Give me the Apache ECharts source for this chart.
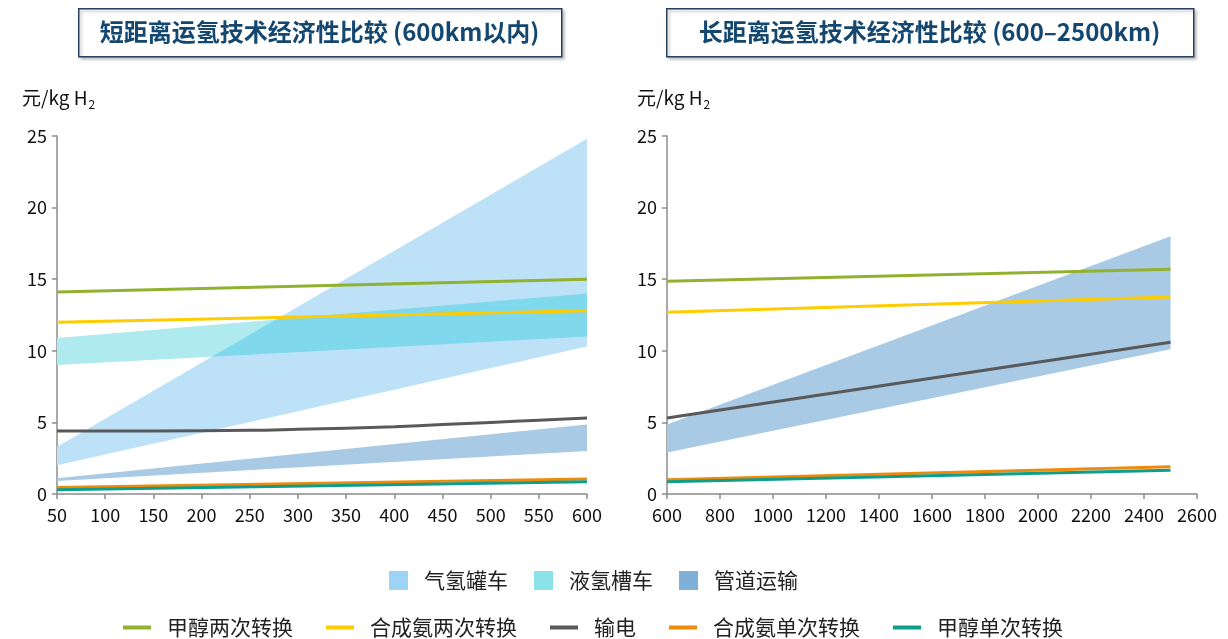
<!DOCTYPE html>
<html><head><meta charset="utf-8">
<script src="https://cdn.jsdelivr.net/npm/echarts@6/dist/echarts.min.js"></script>
<style>html,body{margin:0;padding:0;background:#fff}#c{width:1228px;height:639px}</style>
</head><body><div id="c"></div>
<script>
// ---- data ----
const shortX = [50, 600];
const gasTankLow = [2.0, 10.3];
const gasTankHigh = [3.3, 24.8];
const liqTankLow = [9.0, 11.0];
const liqTankHigh = [10.9, 14.0];
const pipeShortLow = [0.9, 3.0];
const pipeShortHigh = [1.1, 4.85];

const shortLineX = [50, 600];
const methanolTwoShort = [14.1, 15.0];
const ammoniaTwoShort = [12.0, 12.8];
const ammoniaOneShort = [0.45, 1.05];
const methanolOneShort = [0.3, 0.85];
const powerShortX = [50, 150, 250, 300, 350, 400, 450, 500, 550, 600];
const powerShort = [4.4, 4.4, 4.45, 4.52, 4.6, 4.7, 4.85, 5.0, 5.15, 5.3];

const longX = [600, 2500];
const pipeLongLow = [2.9, 10.1];
const pipeLongHigh = [4.85, 18.0];
const methanolTwoLong = [14.85, 15.7];
const ammoniaTwoLong = [12.7, 13.75];
const powerLong = [5.3, 10.6];
const ammoniaOneLong = [1.0, 1.9];
const methanolOneLong = [0.85, 1.65];

const bandNames = ['气氢罐车', '液氢槽车', '管道运输'];
const lineNames = ['甲醇两次转换', '合成氨两次转换', '输电', '合成氨单次转换', '甲醇单次转换'];
const titles = ['短距离运氢技术经济性比较 (600km以内)', '长距离运氢技术经济性比较 (600–2500km)'];

// ---- styles ----
const FONT = '"Noto Sans CJK SC", "Noto Sans", sans-serif';
const bandLegendColor = {'气氢罐车': '#9dd3f5', '液氢槽车': '#8ae3e8', '管道运输': '#7fb0d8'};
const bandFill = {'气氢罐车': '#bde2f8', '液氢槽车': '#aeeaee', '管道运输': '#a8cae4'};
const overlapFill = '#80d8ec';
const lineColor = {'甲醇两次转换': '#92b22f', '合成氨两次转换': '#ffcc00', '输电': '#595959', '合成氨单次转换': '#ef8a0a', '甲醇单次转换': '#0e9e8b'};

function zip3(x, a, b) { return x.map((v, i) => [v, a[i], b[i]]); }
function zip2(x, a) { return x.map((v, i) => [v, a[i]]); }

function quad(api, a, b, lo, hi) {
  return [api.coord([a[0], a[lo]]), api.coord([b[0], b[lo]]),
          api.coord([b[0], b[hi]]), api.coord([a[0], a[hi]])];
}

function bandSeries(name, gi, rows) {
  return {
    type: 'custom', name: name, xAxisIndex: gi, yAxisIndex: gi,
    itemStyle: {color: bandLegendColor[name]},
    encode: {x: 0, y: [1, 2]},
    data: rows, z: 1, silent: true,
    renderItem: function (params, api) {
      const i = params.dataIndex;
      if (i >= rows.length - 1) return null;
      return {type: 'polygon', shape: {points: quad(api, rows[i], rows[i + 1], 1, 2)},
        style: {fill: bandFill[name]}};
    }
  };
}

// convex polygon clipping (Sutherland–Hodgman) in pixel space
function clipPoly(subject, clip) {
  let out = subject;
  const n = clip.length;
  // orientation of clip polygon
  let area = 0;
  for (let i = 0; i < n; i++) { const p = clip[i], q = clip[(i + 1) % n]; area += p[0] * q[1] - q[0] * p[1]; }
  const sgn = area > 0 ? 1 : -1;
  for (let i = 0; i < n && out.length; i++) {
    const A = clip[i], B = clip[(i + 1) % n];
    const inside = p => sgn * ((B[0] - A[0]) * (p[1] - A[1]) - (B[1] - A[1]) * (p[0] - A[0])) >= 0;
    const inter = (p, q) => {
      const a1 = B[1] - A[1], b1 = A[0] - B[0], c1 = a1 * A[0] + b1 * A[1];
      const a2 = q[1] - p[1], b2 = p[0] - q[0], c2 = a2 * p[0] + b2 * p[1];
      const d = a1 * b2 - a2 * b1;
      return [(b2 * c1 - b1 * c2) / d, (a1 * c2 - a2 * c1) / d];
    };
    const inp = out; out = [];
    for (let j = 0; j < inp.length; j++) {
      const P = inp[j], Q = inp[(j + 1) % inp.length];
      const pi = inside(P), qi = inside(Q);
      if (pi) { out.push(P); if (!qi) out.push(inter(P, Q)); }
      else if (qi) out.push(inter(P, Q));
    }
  }
  return out;
}

function overlapSeries(gi, rows) {
  // rows: [x, lowA, highA, lowB, highB]
  return {
    type: 'custom', name: '_overlap', xAxisIndex: gi, yAxisIndex: gi,
    encode: {x: 0, y: [1, 2, 3, 4]}, data: rows, z: 2, silent: true,
    renderItem: function (params, api) {
      const i = params.dataIndex;
      if (i >= rows.length - 1) return null;
      const A = quad(api, rows[i], rows[i + 1], 1, 2);
      const B = quad(api, rows[i], rows[i + 1], 3, 4);
      const pts = clipPoly(A, B);
      if (pts.length < 3) return null;
      return {type: 'polygon', shape: {points: pts}, style: {fill: overlapFill}};
    }
  };
}

function lineSeries(name, gi, x, y, smooth) {
  return {
    type: 'line', name: name, xAxisIndex: gi, yAxisIndex: gi,
    data: zip2(x, y), symbol: 'none', smooth: smooth || false, z: 3,
    itemStyle: {color: lineColor[name]},
    lineStyle: {color: lineColor[name], width: 3}
  };
}

const axisLine = {show: true, lineStyle: {color: '#8c8c8c', width: 1.5}};
const axisTick = {show: true, length: 5, lineStyle: {color: '#8c8c8c', width: 1.5}};
const labelStyle = {color: '#111', fontSize: 18, fontFamily: FONT};

function xAxis(gi, min, max, interval) {
  return {type: 'value', gridIndex: gi, min: min, max: max, interval: interval,
    axisLine: axisLine, axisTick: axisTick, splitLine: {show: false},
    axisLabel: Object.assign({margin: 12, formatter: v => String(v)}, labelStyle)};
}
function yAxis(gi) {
  return {type: 'value', gridIndex: gi, min: 0, max: 25, interval: 5,
    axisLine: axisLine, axisTick: axisTick, splitLine: {show: false},
    axisLabel: Object.assign({margin: 10}, labelStyle)};
}

function titleBox(x, w, text) {
  return [
    {type: 'rect', left: x, top: 8, shape: {width: w, height: 48},
      style: {fill: '#fff', stroke: '#24405e', lineWidth: 1.5,
        shadowBlur: 3, shadowColor: 'rgba(0,0,0,0.25)', shadowOffsetX: 2, shadowOffsetY: 2}},
    {type: 'text', x: x + w / 2, y: 32,
      style: {text: text, fill: '#144770', font: 'bold 24px ' + FONT, align: 'center', verticalAlign: 'middle'}}
  ];
}
function unitLabel(x) {
  return {type: 'text', x: x, y: 98, style: {
    text: '{a|元/kg H}{s|2}', verticalAlign: 'middle',
    rich: {a: {fontSize: 19, fontFamily: FONT, fill: '#111'},
           s: {fontSize: 12, fontFamily: FONT, fill: '#111', padding: [12, 0, 0, 1]}}}};
}

const chart = echarts.init(document.getElementById('c'), null, {renderer: 'canvas'});
chart.setOption({
  backgroundColor: '#fff',
  animation: false,
  textStyle: {fontFamily: FONT},
  grid: [
    {left: 57, top: 136, width: 530, height: 358},
    {left: 667, top: 136, width: 530, height: 358}
  ],
  xAxis: [xAxis(0, 50, 600, 50), xAxis(1, 600, 2600, 200)],
  yAxis: [yAxis(0), yAxis(1)],
  legend: [
    {data: bandNames, left: 384, top: 565, icon: 'rect', itemWidth: 19, itemHeight: 19, itemGap: 26,
      textStyle: {fontSize: 21, color: '#222', fontFamily: FONT, padding: [0, 0, 0, 11]}},
    {data: lineNames, left: 118, top: 612, icon: 'rect', itemWidth: 28, itemHeight: 4, itemGap: 33,
      textStyle: {fontSize: 21, color: '#222', fontFamily: FONT, padding: [0, 0, 0, 11]}}
  ],
  graphic: [].concat(
    titleBox(78, 483, titles[0]),
    titleBox(666, 527, titles[1]),
    [unitLabel(22), unitLabel(637)]
  ),
  series: [
    bandSeries('管道运输', 0, zip3(shortX, pipeShortLow, pipeShortHigh)),
    bandSeries('液氢槽车', 0, zip3(shortX, liqTankLow, liqTankHigh)),
    bandSeries('气氢罐车', 0, zip3(shortX, gasTankLow, gasTankHigh)),
    overlapSeries(0, shortX.map((x, i) => [x, gasTankLow[i], gasTankHigh[i], liqTankLow[i], liqTankHigh[i]])),
    lineSeries('甲醇两次转换', 0, shortLineX, methanolTwoShort),
    lineSeries('合成氨两次转换', 0, shortLineX, ammoniaTwoShort),
    lineSeries('输电', 0, powerShortX, powerShort, 0.4),
    lineSeries('合成氨单次转换', 0, shortLineX, ammoniaOneShort),
    lineSeries('甲醇单次转换', 0, shortLineX, methanolOneShort),
    bandSeries('管道运输', 1, zip3(longX, pipeLongLow, pipeLongHigh)),
    lineSeries('甲醇两次转换', 1, longX, methanolTwoLong),
    lineSeries('合成氨两次转换', 1, longX, ammoniaTwoLong),
    lineSeries('输电', 1, longX, powerLong),
    lineSeries('合成氨单次转换', 1, longX, ammoniaOneLong),
    lineSeries('甲醇单次转换', 1, longX, methanolOneLong)
  ]
});
</script></body></html>
